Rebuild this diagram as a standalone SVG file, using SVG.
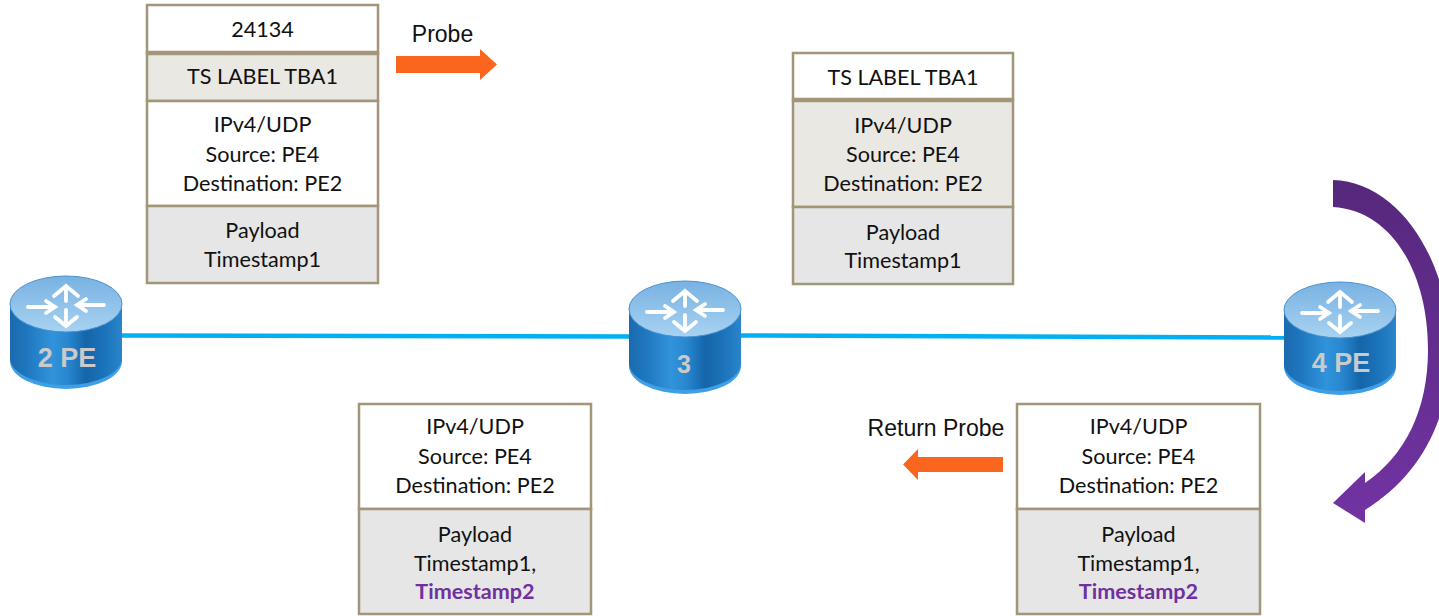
<svg xmlns="http://www.w3.org/2000/svg" xmlns:xlink="http://www.w3.org/1999/xlink" width="1439" height="616" viewBox="0 0 1439 616">
<style>
.cell{stroke:#A39578;stroke-width:2.5}
.w{fill:#FFFFFF}
.b{fill:#EAE8E3}
.g{fill:#E6E6E6}
.sep{stroke:#A39578;stroke-width:4.5}
.t{font-family:Lato,"Noto Sans",sans-serif;font-size:21.6px;fill:#111111;text-anchor:middle}
.ts2{font-weight:bold;fill:#7030A0}
.lbl{font-family:"Liberation Sans",Arial,sans-serif;font-size:23px;fill:#111111;text-anchor:middle}
.rl{font-family:"Liberation Sans",Arial,sans-serif;font-weight:bold;font-size:27px;fill:#CACACA;text-anchor:middle}
.link{stroke:#00B0F0;stroke-width:4.5;fill:none}
.orange{fill:#FA661E}
.wa{stroke:#FFFFFF;stroke-width:3.8;fill:none;stroke-linecap:round;stroke-linejoin:miter}
</style>
<defs>
<linearGradient id="body" x1="0" y1="0" x2="1" y2="0">
<stop offset="0" stop-color="#1C6AAF"/>
<stop offset="0.15" stop-color="#1F77BE"/>
<stop offset="0.38" stop-color="#3193DB"/>
<stop offset="0.52" stop-color="#2786CE"/>
<stop offset="0.68" stop-color="#1565AA"/>
<stop offset="0.85" stop-color="#1C74BA"/>
<stop offset="1" stop-color="#2A85CA"/>
</linearGradient>
<linearGradient id="top" x1="0" y1="0" x2="0" y2="1">
<stop offset="0" stop-color="#78B2E2"/>
<stop offset="1" stop-color="#A8D2F1"/>
</linearGradient>
<linearGradient id="purple" gradientUnits="userSpaceOnUse" x1="0" y1="180" x2="0" y2="523">
<stop offset="0" stop-color="#56287C"/>
<stop offset="1" stop-color="#7233A3"/>
</linearGradient>
<g id="router">
<path d="M-56,0 V57 A56,28 0 0 0 56,57 V0 Z" fill="#3E9EE6"/>
<path d="M-56,0 V54 A56,27 0 0 0 56,54 V0 Z" fill="url(#body)"/>
<ellipse cx="0" cy="0" rx="56" ry="28" fill="url(#top)" stroke="#4A93D0" stroke-width="1"/>
<path class="wa" d="M0,-3 V-17 M-12,-8 L0,-18 L12,-8"/>
<path class="wa" d="M0,6 V21 M-11,13 L0,22 L11,13"/>
<path class="wa" d="M-38,3 H-12 M-20,-3 L-11,3 L-20,9"/>
<path class="wa" d="M38,1 H12 M20,-5 L11,1 L20,7"/>
</g>
</defs>
<rect width="1439" height="616" fill="#FFFFFF"/>

<g id="connectors">
<line class="link" x1="120" y1="335.5" x2="632" y2="336.5"/>
<line class="link" x1="738" y1="335.5" x2="1286" y2="337.5"/>
</g>

<g id="router-2pe">
<use xlink:href="#router" href="#router" x="66" y="304"/>
<text class="rl" x="67" y="367">2 PE</text>
</g>
<g id="router-3">
<use xlink:href="#router" href="#router" x="685" y="309"/>
<text class="rl" x="684" y="373" style="font-size:25px">3</text>
</g>
<g id="router-4pe">
<use xlink:href="#router" href="#router" x="1340" y="310"/>
<text class="rl" x="1341" y="372">4 PE</text>
</g>

<g id="packet-1">
<rect class="cell w" x="147" y="5" width="231" height="48"/>
<rect class="cell b" x="147" y="53" width="231" height="48"/>
<rect class="cell w" x="147" y="101" width="231" height="105"/>
<rect class="cell g" x="147" y="206" width="231" height="77"/>
<line class="sep" x1="147" y1="53" x2="378" y2="53"/>
<text class="t" x="262.5" y="37">24134</text>
<text class="t" x="262.5" y="84">TS LABEL TBA1</text>
<text class="t" x="262.5" y="132">IPv4/UDP</text>
<text class="t" x="262.5" y="162">Source: PE4</text>
<text class="t" x="262.5" y="191">Destination: PE2</text>
<text class="t" x="262.5" y="238">Payload</text>
<text class="t" x="262.5" y="267">Timestamp1</text>
</g>

<g id="packet-2">
<rect class="cell w" x="793" y="53" width="220" height="47"/>
<rect class="cell b" x="793" y="100" width="220" height="107"/>
<rect class="cell g" x="793" y="207" width="220" height="77"/>
<line class="sep" x1="793" y1="100" x2="1013" y2="100"/>
<text class="t" x="903" y="85">TS LABEL TBA1</text>
<text class="t" x="903" y="133">IPv4/UDP</text>
<text class="t" x="903" y="162">Source: PE4</text>
<text class="t" x="903" y="191">Destination: PE2</text>
<text class="t" x="903" y="240">Payload</text>
<text class="t" x="903" y="268">Timestamp1</text>
</g>

<g id="packet-3">
<rect class="cell w" x="359" y="404" width="232" height="105"/>
<rect class="cell g" x="359" y="509" width="232" height="105"/>
<text class="t" x="475" y="434">IPv4/UDP</text>
<text class="t" x="475" y="464">Source: PE4</text>
<text class="t" x="475" y="493">Destination: PE2</text>
<text class="t" x="475" y="542">Payload</text>
<text class="t" x="475" y="571">Timestamp1,</text>
<text class="t ts2" x="475" y="599">Timestamp2</text>
</g>

<g id="packet-4">
<rect class="cell w" x="1017" y="404" width="243" height="105"/>
<rect class="cell g" x="1017" y="509" width="243" height="105"/>
<text class="t" x="1138.5" y="434">IPv4/UDP</text>
<text class="t" x="1138.5" y="464">Source: PE4</text>
<text class="t" x="1138.5" y="493">Destination: PE2</text>
<text class="t" x="1138.5" y="542">Payload</text>
<text class="t" x="1138.5" y="571">Timestamp1,</text>
<text class="t ts2" x="1138.5" y="599">Timestamp2</text>
</g>

<g id="probe">
<polygon class="orange" points="396,56 480,56 480,49 497,64.5 480,80 480,73 396,73"/>
<text class="lbl" x="442.5" y="42">Probe</text>
</g>

<g id="return-probe">
<polygon class="orange" points="1003,457 918,457 918,449 903,464.5 918,480 918,472 1003,472"/>
<text class="lbl" x="936" y="436">Return Probe</text>
</g>

<g id="turnaround">
<path fill="url(#purple)" d="M1333,180 C1400,182 1450,262 1450,350 C1450,420 1420,476 1365,510 L1365,523 L1333,503 L1365,472 L1365,483 C1405,456 1428,410 1428,350 C1428,270 1390,210 1333,207 Z"/>
</g>
</svg>
